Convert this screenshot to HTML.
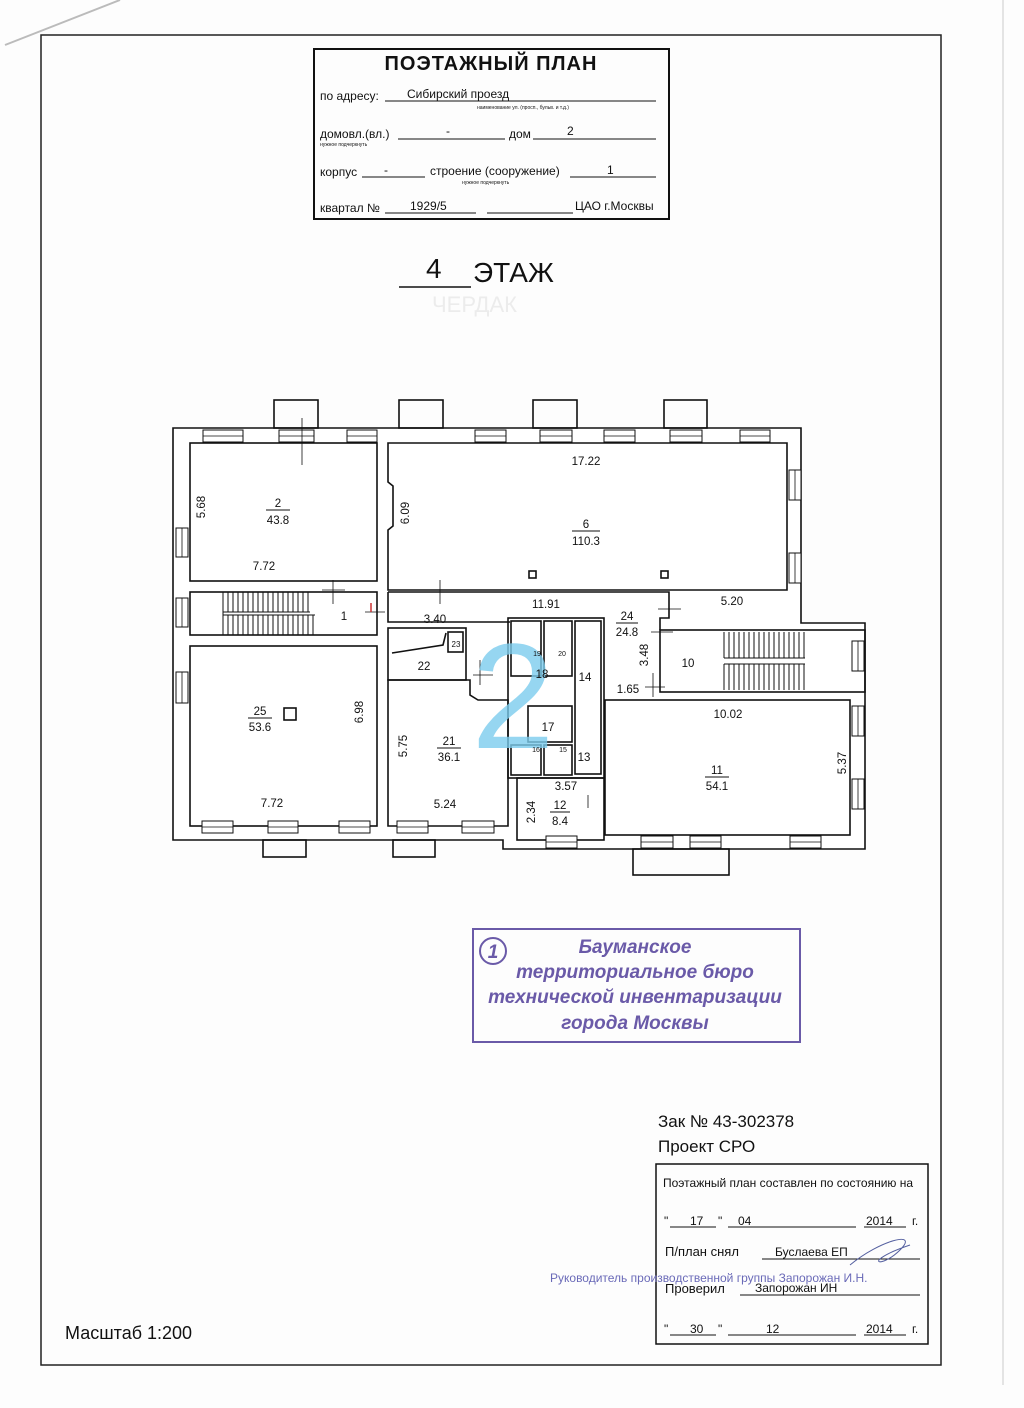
<!DOCTYPE html>
<html><head><meta charset="utf-8"><style>
html,body{margin:0;padding:0;background:#fff}
svg{display:block}
text{font-family:"Liberation Sans",sans-serif;fill:#111}
</style></head><body>
<svg width="1024" height="1408" viewBox="0 0 1024 1408" xmlns="http://www.w3.org/2000/svg">
<rect width="1024" height="1408" fill="#fdfdfd"/>
<line x1="5" y1="45" x2="120" y2="0" stroke="#bbb" stroke-width="2"/>
<rect x="41" y="35" width="900" height="1330" fill="none" stroke="#222" stroke-width="1.5"/>
<line x1="1003" y1="0" x2="1003" y2="1385" stroke="#ccc" stroke-width="1"/>

<rect x="314" y="49" width="355" height="170" fill="none" stroke="#111" stroke-width="2"/>
<text x="491" y="70" font-size="20" font-weight="bold" text-anchor="middle" letter-spacing="1">ПОЭТАЖНЫЙ ПЛАН</text>
<g font-size="12">
<text x="320" y="100">по адресу:</text><text x="407" y="98">Сибирский проезд</text>
<line x1="385" y1="101" x2="656" y2="101" stroke="#111"/>
<text x="477" y="109" font-size="5">наименование ул. (просп., бульв. и т.д.)</text>
<text x="320" y="138">домовл.(вл.)</text><line x1="398" y1="139" x2="505" y2="139" stroke="#111"/><text x="446" y="135">-</text>
<text x="509" y="138">дом</text><line x1="533" y1="139" x2="656" y2="139" stroke="#111"/><text x="567" y="135">2</text>
<text x="320" y="146" font-size="5">нужное подчеркнуть</text>
<text x="320" y="176">корпус</text><line x1="362" y1="177" x2="425" y2="177" stroke="#111"/><text x="384" y="174">-</text>
<text x="430" y="175">строение (сооружение)</text><line x1="570" y1="177" x2="656" y2="177" stroke="#111"/><text x="607" y="174">1</text>
<text x="462" y="184" font-size="5">нужное подчеркнуть</text>
<text x="320" y="212">квартал №</text><line x1="385" y1="213" x2="476" y2="213" stroke="#111"/><text x="410" y="210">1929/5</text>
<line x1="487" y1="213" x2="573" y2="213" stroke="#111"/><text x="575" y="210">ЦАО г.Москвы</text>
</g>
<text x="426" y="278" font-size="28">4</text>
<line x1="399" y1="287" x2="471" y2="287" stroke="#111" stroke-width="1.5"/>
<text x="473" y="282" font-size="28">ЭТАЖ</text>
<text x="432" y="312" font-size="22" style="fill:#ececec">ЧЕРДАК</text>

<g fill="none" stroke="#111" stroke-width="1.6">
<path d="M173 428 H801 V623 H865 V849 H503 V840 H173 Z" fill="#fff"/>
<rect x="274" y="400" width="44" height="28"/><rect x="399" y="400" width="44" height="28"/>
<rect x="533" y="400" width="44" height="28"/><rect x="664" y="400" width="43" height="28"/>
<rect x="263" y="840" width="43" height="17"/><rect x="393" y="840" width="42" height="17"/>
<rect x="633" y="849" width="96" height="26"/>
<rect x="190" y="443" width="187" height="138"/>
<path d="M388 443 H787 V590 H388 V530 L393 526 V486 L388 482 Z"/>
<rect x="190" y="592" width="187" height="43"/>
<rect x="190" y="646" width="187" height="180"/>
<path d="M388 592 H669 V618 H660 V630 M388 592 V622 H510"/>
<rect x="388" y="628" width="78" height="52"/>
<rect x="448" y="632" width="15" height="20"/>
<path d="M392 653 L443 645 L446 633"/>
<path d="M388 680 H470 V695 L478 700 H508 V826 H388 Z"/>
<rect x="508" y="618" width="96" height="160"/>
<rect x="511" y="621" width="30" height="55"/><rect x="544" y="621" width="28" height="55"/>
<rect x="575" y="621" width="26" height="153"/>
<rect x="528" y="706" width="44" height="36"/>
<rect x="511" y="745" width="30" height="30"/><rect x="544" y="745" width="28" height="30"/>
<rect x="517" y="778" width="87" height="62"/>
<rect x="660" y="630" width="205" height="62"/>
<rect x="605" y="700" width="245" height="135"/>
<rect x="284" y="708" width="12" height="12"/>
<rect x="529" y="571" width="7" height="7"/><rect x="661" y="571" width="7" height="7"/>
</g>
<g stroke="#111" stroke-width="1">
<path d="M223 592 V612 M228 592 V612 M233 592 V612 M238 592 V612 M243 592 V612 M248 592 V612 M253 592 V612 M258 592 V612 M263 592 V612 M268 592 V612 M273 592 V612 M278 592 V612 M283 592 V612 M288 592 V612 M293 592 V612 M298 592 V612 M303 592 V612 M308 592 V612"/>
<path d="M223 615 V635 M228 615 V635 M233 615 V635 M238 615 V635 M243 615 V635 M248 615 V635 M253 615 V635 M258 615 V635 M263 615 V635 M268 615 V635 M273 615 V635 M278 615 V635 M283 615 V635 M288 615 V635 M293 615 V635 M298 615 V635 M303 615 V635 M308 615 V635 M313 615 V635"/>
<path d="M223 612 H310 M223 615 H315 M223 592 V635"/>
<path d="M724 632 V658 M729 632 V658 M734 632 V658 M739 632 V658 M744 632 V658 M749 632 V658 M754 632 V658 M759 632 V658 M764 632 V658 M769 632 V658 M774 632 V658 M779 632 V658 M784 632 V658 M789 632 V658 M794 632 V658 M799 632 V658 M804 632 V658"/>
<path d="M724 664 V690 M729 664 V690 M734 664 V690 M739 664 V690 M744 664 V690 M749 664 V690 M754 664 V690 M759 664 V690 M764 664 V690 M769 664 V690 M774 664 V690 M779 664 V690 M784 664 V690 M789 664 V690 M794 664 V690 M799 664 V690 M804 664 V690"/>
<path d="M724 658 H805 M724 664 H805"/>
</g>
<g fill="#fff" stroke="#111" stroke-width="1">
<rect x="203" y="430" width="40" height="12"/><rect x="279" y="430" width="35" height="12"/><rect x="347" y="430" width="30" height="12"/>
<rect x="475" y="430" width="31" height="12"/><rect x="540" y="430" width="32" height="12"/><rect x="604" y="430" width="31" height="12"/>
<rect x="670" y="430" width="32" height="12"/><rect x="740" y="430" width="30" height="12"/>
<rect x="202" y="821" width="31" height="12"/><rect x="268" y="821" width="30" height="12"/><rect x="339" y="821" width="31" height="12"/>
<rect x="397" y="821" width="31" height="12"/><rect x="462" y="821" width="32" height="12"/>
<rect x="546" y="836" width="31" height="12"/><rect x="641" y="836" width="32" height="12"/><rect x="690" y="836" width="31" height="12"/><rect x="790" y="836" width="31" height="12"/>
<rect x="176" y="528" width="12" height="29"/><rect x="176" y="598" width="12" height="29"/><rect x="176" y="672" width="12" height="31"/>
<rect x="789" y="470" width="12" height="30"/><rect x="789" y="553" width="12" height="30"/>
<rect x="852" y="641" width="12" height="30"/><rect x="852" y="706" width="12" height="30"/><rect x="852" y="779" width="12" height="30"/>
</g>
<g stroke="#111" stroke-width="0.8">
<path d="M203 436 H243 M279 436 H314 M347 436 H377 M475 436 H506 M540 436 H572 M604 436 H635 M670 436 H702 M740 436 H770 M202 827 H233 M268 827 H298 M339 827 H370 M397 827 H428 M462 827 H494 M546 842 H577 M641 842 H673 M690 842 H721 M790 842 H821"/>
<path d="M182 528 V557 M182 598 V627 M182 672 V703 M795 470 V500 M795 553 V583 M858 641 V671 M858 706 V736 M858 779 V809"/>
<path d="M302 418 V465 M333 580 V604 M322 590 H345 M365 612 H385 M440 580 V604 M658 609 H681 M651 632 H673 M653 673 V697 M645 687 H665 M588 795 V808 M473 675 H493 M480 660 V685"/>
</g>
<line x1="371" y1="603" x2="371" y2="612" stroke="#c33" stroke-width="1.5"/>
<text x="513" y="748" font-size="150" text-anchor="middle" font-family="Liberation Serif" style="fill:#7ccdee" opacity="0.8">2</text>
<g font-size="11.5" text-anchor="middle">
<text x="278" y="507">2</text><line x1="266" y1="510" x2="290" y2="510" stroke="#111"/><text x="278" y="524">43.8</text>
<text x="264" y="570">7.72</text>
<text transform="translate(205,507) rotate(-90)">5.68</text>
<text transform="translate(409,513) rotate(-90)">6.09</text>
<text x="586" y="465">17.22</text>
<text x="586" y="528">6</text><line x1="572" y1="531" x2="600" y2="531" stroke="#111"/><text x="586" y="545">110.3</text>
<text x="546" y="608">11.91</text><text x="732" y="605">5.20</text>
<text x="435" y="623">3.40</text>
<text x="344" y="620">1</text>
<text x="627" y="620">24</text><line x1="616" y1="623" x2="638" y2="623" stroke="#111"/><text x="627" y="636">24.8</text>
<text transform="translate(648,655) rotate(-90)">3.48</text>
<text x="688" y="667">10</text>
<text x="424" y="670">22</text><text x="456" y="647" font-size="8">23</text>
<text x="542" y="678">18</text><text x="585" y="681">14</text>
<text x="537" y="656" font-size="7">19</text><text x="562" y="656" font-size="7">20</text>
<text x="628" y="693">1.65</text>
<text x="548" y="731">17</text>
<text x="536" y="752" font-size="7">16</text><text x="563" y="752" font-size="7">15</text>
<text x="584" y="761">13</text>
<text x="728" y="718">10.02</text>
<text x="260" y="715">25</text><line x1="248" y1="718" x2="272" y2="718" stroke="#111"/><text x="260" y="731">53.6</text>
<text transform="translate(363,712) rotate(-90)">6.98</text>
<text transform="translate(407,746) rotate(-90)">5.75</text>
<text x="449" y="745">21</text><line x1="437" y1="748" x2="461" y2="748" stroke="#111"/><text x="449" y="761">36.1</text>
<text x="272" y="807">7.72</text><text x="445" y="808">5.24</text>
<text x="566" y="790">3.57</text>
<text transform="translate(535,812) rotate(-90)">2.34</text>
<text x="560" y="809">12</text><line x1="550" y1="812" x2="570" y2="812" stroke="#111"/><text x="560" y="825">8.4</text>
<text x="717" y="774">11</text><line x1="705" y1="777" x2="729" y2="777" stroke="#111"/><text x="717" y="790">54.1</text>
<text transform="translate(846,763) rotate(-90)">5.37</text>
</g>

<g fill="none" stroke="#6a5aa8" stroke-width="2">
<rect x="473" y="929" width="327" height="113"/>
<circle cx="493" cy="951" r="13"/>
</g>
<g font-size="19" font-style="italic" font-weight="bold" text-anchor="middle">
<text x="493" y="958" style="fill:#6a5aa8">1</text>
<text x="635" y="953" style="fill:#6a5aa8">Бауманское</text>
<text x="635" y="978" style="fill:#6a5aa8">территориальное бюро</text>
<text x="635" y="1003" style="fill:#6a5aa8">технической инвентаризации</text>
<text x="635" y="1029" style="fill:#6a5aa8">города Москвы</text>
</g>

<text x="658" y="1127" font-size="17">Зак № 43-302378</text>
<text x="658" y="1152" font-size="17">Проект СРО</text>
<rect x="656" y="1164" width="272" height="180" fill="none" stroke="#111" stroke-width="1.5"/>
<g font-size="12">
<text x="663" y="1187">Поэтажный план составлен по состоянию на</text>
<text x="664" y="1225">"</text><text x="690" y="1225">17</text><text x="718" y="1225">"</text><text x="738" y="1225">04</text><text x="866" y="1225">2014</text><text x="912" y="1225">г.</text>
<line x1="670" y1="1227" x2="716" y2="1227" stroke="#111"/><line x1="728" y1="1227" x2="856" y2="1227" stroke="#111"/><line x1="864" y1="1227" x2="906" y2="1227" stroke="#111"/>
<text x="665" y="1256" font-size="13">П/план снял</text><text x="775" y="1256">Буслаева ЕП</text><line x1="762" y1="1259" x2="920" y2="1259" stroke="#111"/>
<text x="550" y="1282" style="fill:#6a6ab8">Руководитель производственной группы Запорожан И.Н.</text>
<text x="665" y="1293" font-size="13">Проверил</text><text x="755" y="1292">Запорожан ИН</text><line x1="740" y1="1295" x2="920" y2="1295" stroke="#111"/>
<text x="664" y="1333">"</text><text x="690" y="1333">30</text><text x="718" y="1333">"</text><text x="766" y="1333">12</text><text x="866" y="1333">2014</text><text x="912" y="1333">г.</text>
<line x1="670" y1="1335" x2="716" y2="1335" stroke="#111"/><line x1="728" y1="1335" x2="856" y2="1335" stroke="#111"/><line x1="864" y1="1335" x2="906" y2="1335" stroke="#111"/>
</g>
<path d="M850 1265 C880 1240 920 1230 900 1250 C880 1270 860 1262 910 1245" fill="none" stroke="#5560a0" stroke-width="1"/>
<text x="65" y="1339" font-size="18">Масштаб 1:200</text>
</svg>
</body></html>
